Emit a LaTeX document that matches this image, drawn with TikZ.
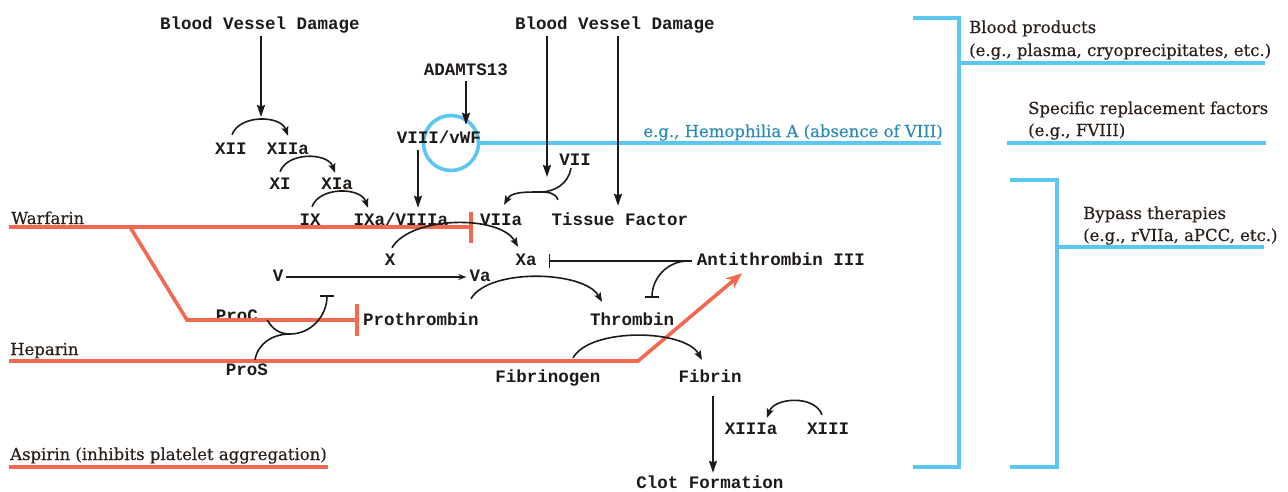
\documentclass[tikz,border=0pt]{standalone}
\usepackage{fontspec}
\usetikzlibrary{arrows.meta}
\newfontfamily\monox{Liberation Mono}
\newfontfamily\serifx{DejaVu Serif}[UprightFeatures={FakeBold=0.4}]
\definecolor{ink}{HTML}{1E1A18}
\definecolor{serink}{HTML}{2A1E18}
\definecolor{redl}{HTML}{F2694F}
\definecolor{bluel}{HTML}{5CC6F2}
\definecolor{bluet}{HTML}{2C8BB5}
\begin{document}
\begin{tikzpicture}[x=1pt,y=-1pt,
 mono/.style={font=\monox\bfseries\fontsize{17.5}{20}\selectfont, text=ink, inner sep=0pt, anchor=base, text height=11pt, text depth=3pt},
 ser/.style={font=\serifx\fontsize{16.5}{20}\selectfont, text=serink, inner sep=0pt, anchor=base west},
 arr/.style={draw=ink, line width=1.8pt, -{Stealth[length=12pt,width=8pt,inset=1.5pt]}},
 arc/.style={draw=ink, line width=1.6pt, -{Stealth[length=9pt,width=7pt,inset=1.5pt]}},
 inh/.style={draw=ink, line width=1.6pt, -{Bar[width=14pt]}},
 plain/.style={draw=ink, line width=1.6pt},
 redline/.style={draw=redl, line width=3.6pt},
 blueline/.style={draw=bluel, line width=3.6pt}]
\useasboundingbox (0,0) rectangle (1288,491);
% blue circle
\node[circle, draw=bluel, line width=3.6pt, minimum size=55pt, inner sep=0pt] (hcirc) at (451,143) {};
% mono nodes
\node[mono] (bvdA) at (260,29) {Blood Vessel Damage};
\node[mono] (bvdB) at (615,29) {Blood Vessel Damage};
\node[mono] (adamts) at (466,75) {ADAMTS13};
\node[mono] (viii) at (439,143) {VIII/vWF};
\node[mono] (xii) at (231,154) {XII};
\node[mono] (xiia) at (288,154) {XIIa};
\node[mono] (xi) at (280,189) {XI};
\node[mono] (xia) at (337,189) {XIa};
\node[mono] (ix) at (310,225) {IX};
\node[mono] (ixa) at (401,225) {IXa/VIIIa};
\node[mono] (vii) at (575,165) {VII};
\node[mono] (viia) at (501,225) {VIIa};
\node[mono] (tf) at (620,225) {Tissue Factor};
\node[mono] (fX) at (390,265) {X};
\node[mono] (fXa) at (526,265) {Xa};
\node[mono] (at3) at (781,265) {Antithrombin III};
\node[mono] (fV) at (278,281) {V};
\node[mono] (fVa) at (480,281) {Va};
\node[mono] (proc) at (237,321) {ProC};
\node[mono] (proth) at (421,325) {Prothrombin};
\node[mono] (thromb) at (632,325) {Thrombin};
\node[mono] (pros) at (247,375) {ProS};
\node[mono] (fibg) at (548,382) {Fibrinogen};
\node[mono] (fib) at (710,382) {Fibrin};
\node[mono] (xiiia) at (751,434) {XIIIa};
\node[mono] (xiii) at (828,434) {XIII};
\node[mono] (clot) at (710,488) {Clot Formation};
% serif nodes
\node[ser] (warf) at (11,224) {Warfarin};
\node[ser] (hep) at (10,355) {Heparin};
\node[ser] (asp) at (10,460) {Aspirin (inhibits platelet aggregation)};
\node[ser, text=bluet, anchor=base east] (hemo) at (943,137) {e.g., Hemophilia A (absence of VIII)};
\node[ser] (bp1) at (969,33) {Blood products};
\node[ser] (bp2) at (969,56) {(e.g., plasma, cryoprecipitates, etc.)};
\node[ser] (sr1) at (1028,114) {Specific replacement factors};
\node[ser] (sr2) at (1028,136) {(e.g., FVIII)};
\node[ser] (by1) at (1083,219) {Bypass therapies};
\node[ser] (by2) at (1083,241) {(e.g., rVIIa, aPCC, etc.)};
% red lines
\coordinate (wbr) at (130,227);
\coordinate (wbend) at (187,320);
\coordinate (hbend) at (638,361);
\draw[redline, -{Bar[width=31pt]}] ([xshift=-2pt,yshift=-3pt]warf.base west) -- ([xshift=-7pt,yshift=-2pt]viia.base west);
\draw[redline, -{Bar[width=32pt]}] (wbr) -- (wbend) -- ([xshift=-4pt,yshift=5pt]proth.base west);
\draw[redline, -{Stealth[length=16pt,width=13pt]}] ([xshift=-1pt,yshift=-6pt]hep.base west) -- (hbend) -- ([xshift=-39pt,yshift=-5pt]at3.south);
\draw[redline] ([xshift=-1pt,yshift=-7pt]asp.base west) -- ([xshift=1pt,yshift=-7pt]asp.base east);
% blue lines
\coordinate (hemoend) at (941,143);
\draw[blueline] (hcirc.east) -- (hemoend);
\draw[blueline] (913,18) -- (959,18) -- (959,467) -- (913,467);
\draw[blueline] (959,63) -- (1265,63);
\draw[blueline] (1007,143) -- (1266,143);
\draw[blueline] (1010,180) -- (1057,180) -- (1057,467) -- (1010,467);
\draw[blueline] (1057,247) -- (1264,247);
% black connectors
\coordinate (r12) at (261,117);
\draw[arr] ([xshift=1pt,yshift=-4pt]bvdA.south) -- (r12);
\draw[arc] ([xshift=1pt,yshift=8pt]xii.north) to[out=70,in=110] ([yshift=7pt]xiia.north);
\draw[arc] ([yshift=6pt]xi.north) to[out=70,in=110] ([xshift=-2pt,yshift=5pt]xia.north);
\draw[arc] ([xshift=2pt,yshift=7pt]ix.north) to[out=70,in=110] ([xshift=-33pt,yshift=6pt]ixa.north);
\draw[arr] ([yshift=-3pt]adamts.south) -- ([xshift=27pt,yshift=7pt]viii.north);
\draw[arr] ([xshift=-21pt,yshift=-4pt]viii.south) -- ([xshift=17pt,yshift=6pt]ixa.north);
\coordinate (r7) at (547,177);
\draw[arr] ([xshift=-68pt,yshift=-4pt]bvdB.south) -- (r7);
\draw[arr] ([xshift=3pt,yshift=-4pt]bvdB.south) -- ([xshift=-2pt,yshift=8pt]tf.north);
\coordinate (j7) at (540,192);
\draw[plain] ([xshift=-4pt]vii.south) to[out=-100,in=0] (j7);
\draw[plain] ([xshift=-62pt,yshift=14pt]tf.north) to[out=110,in=0] (j7);
\draw[arc] (j7) to[out=180,in=60] ([xshift=3pt,yshift=9pt]viia.north);
\draw[arc] ([xshift=2pt,yshift=6pt]fX.north) to[out=60,in=120,looseness=0.75] ([xshift=-8pt,yshift=7pt]fXa.north);
\draw[arc, -{Stealth[length=8pt,width=6pt]}] ([xshift=3pt]fV.east) -- ([xshift=-3pt]fVa.west);
\draw[inh] ([xshift=-5pt]at3.west) -- ([xshift=12pt]fXa.east);
\draw[inh] ([xshift=-9pt]at3.west) to[out=180,in=90] ([xshift=20pt,yshift=16pt]thromb.north);
\coordinate (jpc) at (290,334);
\coordinate (pcinh) at (327,295);
\draw[plain] ([xshift=9pt,yshift=-3pt]proc.east) to[out=-60,in=180] (jpc);
\draw[plain] ([xshift=8pt,yshift=4pt]pros.north) to[out=80,in=180] (jpc);
\draw[inh] (jpc) to[out=0,in=-90] (pcinh);
\draw[arc] ([xshift=-8pt,yshift=15pt]proth.north east) to[out=60,in=120,looseness=0.7] ([xshift=-30pt,yshift=12pt]thromb.north);
\draw[arc] ([xshift=25pt,yshift=13pt]fibg.north) to[out=60,in=120,looseness=0.7] ([xshift=-8pt,yshift=11pt]fib.north);
\draw[arr] ([xshift=3pt,yshift=-11pt]fib.south) -- ([xshift=3pt,yshift=4pt]clot.north);
\draw[arc] ([xshift=-6pt,yshift=8pt]xiii.north) to[out=110,in=70] ([xshift=16pt,yshift=5pt]xiiia.north);
\end{tikzpicture}
\end{document}
